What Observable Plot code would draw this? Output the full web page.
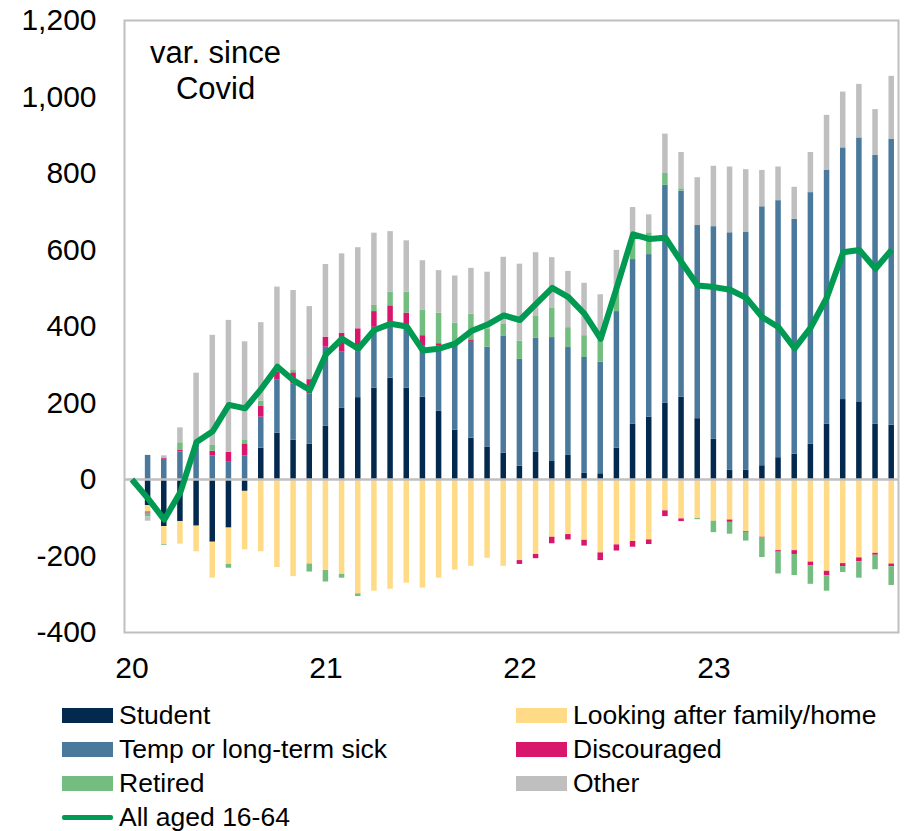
<!DOCTYPE html>
<html>
<head>
<meta charset="utf-8">
<script src="https://cdn.jsdelivr.net/npm/d3@7"></script>
<script src="https://cdn.jsdelivr.net/npm/@observablehq/plot@0.6"></script>
<style>
  body { margin: 0; background: #fff; font-family: "Liberation Sans", Arial, sans-serif; }
  #wrap { position: relative; width: 906px; height: 831px; }
  #legend { position: relative; width: 906px; height: 139px; }
  .item { position: absolute; height: 34px; display: flex; align-items: center; font-size: 26.5px; color: #000; white-space: nowrap; }
  .sw { width: 51px; height: 15px; margin-right: 6px; flex: none; }
  .ln { width: 51px; height: 5px; margin-right: 6px; flex: none; border-radius: 2px; }
</style>
</head>
<body>
<div id="wrap"><div id="chart"></div><div id="legend"></div></div>
<script>
// Months since the pre-Covid baseline (bars start at month 1)
const months = d3.range(1, 48);
const lineMonths = d3.range(0, 48);
const xTickMonths = [0, 12, 24, 36];
const xTickLabels = ["20", "21", "22", "23"];
const yTicks = [-400, -200, 0, 200, 400, 600, 800, 1000, 1200];

const seriesNames = ["Student", "Looking after family/home", "Temp or long-term sick", "Discouraged", "Retired", "Other"];
const lineName = "All aged 16-64";

const student = [-68, -123, -110, -122, -164, -127, -31, 82, 121, 103, 92, 139, 186, 214, 239, 265, 239, 215, 179, 129, 108, 85, 69, 35, 71, 47, 63, 16, 15, 82, 145, 163, 200, 215, 159, 105, 24, 24, 36, 57, 66, 92, 145, 209, 203, 145, 142];
const family = [-17, -47, -59, -67, -94, -95, -153, -189, -230, -254, -221, -238, -248, -299, -292, -287, -271, -284, -258, -237, -227, -206, -227, -212, -196, -151, -144, -159, -192, -171, -162, -158, -82, -103, -102, -109, -106, -136, -151, -186, -186, -216, -240, -220, -205, -193, -221];
const sick = [63, 53, 72, 93, 62, 45, 62, 81, 140, 147, 132, 207, 147, 120, 159, 142, 155, 135, 171, 219, 253, 261, 305, 279, 298, 324, 282, 303, 292, 357, 430, 425, 569, 539, 505, 556, 621, 623, 677, 672, 614, 658, 664, 658, 690, 702, 747];
const discouraged = [-3, 3, 4, 0, 12, 26, 31, 28, 20, 29, 37, 26, 49, 60, 41, 47, 41, 26, 5, 0, 4, 0, 0, -10, -11, -17, -14, -15, -20, -16, -15, -12, -15, -7, 0, 0, -6, -2, -2, -4, -10, -10, -12, -8, -10, -5, -7];
const retired = [-10, -2, 20, 8, 15, -10, 9, 14, 4, 6, -21, -30, -10, -7, 16, 36, 55, 66, 80, 61, 67, 48, 33, 48, 59, 76, 52, 57, 56, 64, 59, 57, 31, 6, -3, -30, -31, -23, -51, -57, -55, -48, -40, -15, -43, -38, -49];
const other = [-11, 6, 39, 177, 288, 345, 258, 205, 218, 209, 191, 190, 208, 212, 189, 158, 134, 130, 111, 123, 120, 148, 174, 201, 165, 133, 147, 137, 120, 96, 77, 47, 103, 95, 125, 158, 172, 163, 95, 88, 84, 105, 143, 146, 140, 120, 165];
const allAged = [0, -50, -105, -33, 98, 126, 195, 186, 237, 295, 259, 234, 327, 368, 342, 391, 407, 400, 337, 342, 355, 388, 405, 429, 417, 459, 501, 477, 433, 368, 503, 641, 629, 632, 568, 507, 503, 496, 475, 424, 398, 343, 398, 477, 594, 600, 551, 601];

const colors = ["#032a4e", "#ffdb87", "#4a799c", "#d8166b", "#74bd81", "#bfbfbf"];
const lineColor = "#009a52";

// Diverging stack table built from the arrays
const seriesValues = [student, family, sick, discouraged, retired, other];
const rows = [];
months.forEach((m, i) => {
  let pos = 0, neg = 0;
  seriesValues.forEach((vals, k) => {
    const v = vals[i];
    if (!v) return;
    let y1, y2;
    if (v > 0) { y1 = pos; y2 = pos + v; pos = y2; }
    else { y1 = neg; y2 = neg + v; neg = y2; }
    rows.push({m, series: seriesNames[k], y1, y2});
  });
});
const lineData = lineMonths.map((m, i) => ({m, v: allAged[i]}));

const chart = Plot.plot({
  width: 906,
  height: 692,
  marginLeft: 124,
  marginRight: 8,
  marginTop: 20,
  marginBottom: 60,
  x: {domain: [-0.46, 47.42], ticks: xTickMonths, tickFormat: d => xTickLabels[xTickMonths.indexOf(d)], tickSize: 0, tickPadding: 24, label: null},
  y: {domain: [-400, 1200], ticks: yTicks, tickFormat: d => d.toLocaleString("en-US"), tickSize: 0, tickPadding: 28, label: null},
  color: {domain: seriesNames, range: colors},
  style: {fontFamily: "'Liberation Sans', Arial, sans-serif", fontSize: "30px", color: "#000", background: "#fff"},
  marks: [
    Plot.rect(rows, {x1: d => d.m - 0.17, x2: d => d.m + 0.17, y1: "y1", y2: "y2", fill: "series"}),
    Plot.ruleY([0], {stroke: "#bfbfbf", strokeWidth: 2.5}),
    Plot.frame({stroke: "#bfbfbf", strokeWidth: 2}),
    Plot.line(lineData, {x: "m", y: "v", stroke: lineColor, strokeWidth: 6, strokeLinejoin: "round", strokeLinecap: "butt"}),
    Plot.text(["var. since\nCovid"], {frameAnchor: "top-left", dx: 91, dy: 17, textAnchor: "middle", lineAnchor: "top", lineHeight: 1.16, fontSize: 31, fill: "#000"})
  ]
});
document.getElementById("chart").appendChild(chart);

// Legend (HTML, below the SVG)
const legend = document.getElementById("legend");
const legendItems = [
  {name: seriesNames[0], color: colors[0], col: 0, row: 0},
  {name: seriesNames[1], color: colors[1], col: 1, row: 0},
  {name: seriesNames[2], color: colors[2], col: 0, row: 1},
  {name: seriesNames[3], color: colors[3], col: 1, row: 1},
  {name: seriesNames[4], color: colors[4], col: 0, row: 2},
  {name: seriesNames[5], color: colors[5], col: 1, row: 2},
  {name: lineName, color: lineColor, col: 0, row: 3, line: true}
];
legendItems.forEach(it => {
  const d = document.createElement("div");
  d.className = "item";
  d.style.left = (it.col === 0 ? 62 : 516) + "px";
  d.style.top = (6 + it.row * 34) + "px";
  const s = document.createElement("span");
  s.className = it.line ? "ln" : "sw";
  s.style.background = it.color;
  d.appendChild(s);
  const t = document.createElement("span");
  t.textContent = it.name;
  d.appendChild(t);
  legend.appendChild(d);
});
</script>
</body>
</html>
